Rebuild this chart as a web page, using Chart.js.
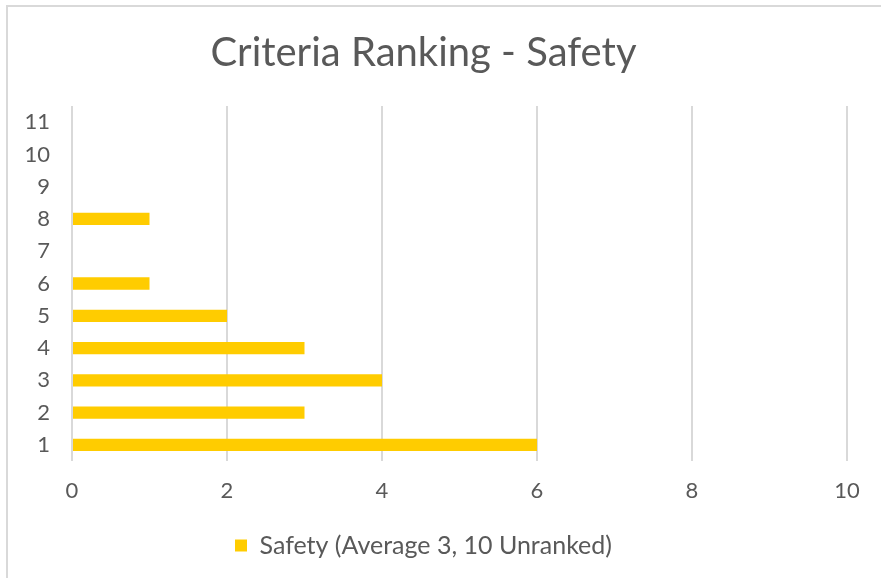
<!DOCTYPE html>
<html>
<head>
<meta charset="utf-8">
<script src="https://cdn.jsdelivr.net/npm/chart.js@4"></script>
<style>
  body { margin: 0; background: #fff; }
  #wrap { position: relative; width: 881px; height: 578px; }
  #frame { position: absolute; left: 6px; top: 5px; right: -2px; bottom: -2px; border: 2px solid #d9d9d9; pointer-events: none; }
</style>
</head>
<body>
<div id="wrap">
  <canvas id="grafico" width="881" height="578"></canvas>
  <div id="frame"></div>
</div>
<script>
// rankings 1..11, quantas vezes cada um foi escolhido
const categorias = ['1', '2', '3', '4', '5', '6', '7', '8', '9', '10', '11'];
const valores = [6, 3, 4, 3, 2, 1, 0, 1, 0, 0, 0];
const rotuloSerie = 'Safety (Average 3, 10 Unranked)';
const ticksX = [0, 2, 4, 6, 8, 10];

const corTexto = '#595959';
const fonte = 'Lato, "DejaVu Sans", sans-serif';

new Chart(document.getElementById('grafico').getContext('2d'), {
  type: 'bar',
  data: {
    labels: categorias,
    datasets: [{
      label: rotuloSerie,
      data: valores,
      backgroundColor: '#FFCC00',
      categoryPercentage: 1,
      barPercentage: 0.38
    }]
  },
  options: {
    indexAxis: 'y',
    responsive: false,
    animation: false,
    layout: { padding: { left: 0, right: 34, top: 0, bottom: 10 } },
    plugins: {
      title: {
        display: true,
        text: 'Criteria Ranking - Safety',
        color: corTexto,
        font: { family: fonte, size: 40, weight: 'normal' },
        padding: { top: 29, bottom: 29 }
      },
      legend: {
        position: 'bottom',
        labels: {
          color: corTexto,
          font: { family: fonte, size: 25 },
          boxWidth: 12,
          boxHeight: 12,
          padding: 7
        }
      },
      tooltip: { enabled: false }
    },
    scales: {
      x: {
        min: 0,
        max: 10,
        afterBuildTicks: axis => { axis.ticks = ticksX.map(v => ({ value: v })); },
        afterFit: axis => { axis.height = 65; },
        grid: { color: '#d9d9d9', lineWidth: 2, drawTicks: false },
        border: { display: false },
        ticks: { color: corTexto, font: { family: fonte, size: 22 }, padding: 17 }
      },
      y: {
        reverse: true,
        afterFit: axis => { axis.width = 72; },
        grid: { display: false },
        border: { display: false },
        ticks: { color: corTexto, font: { family: fonte, size: 22 }, padding: 14 }
      }
    }
  }
});
</script>
</body>
</html>
